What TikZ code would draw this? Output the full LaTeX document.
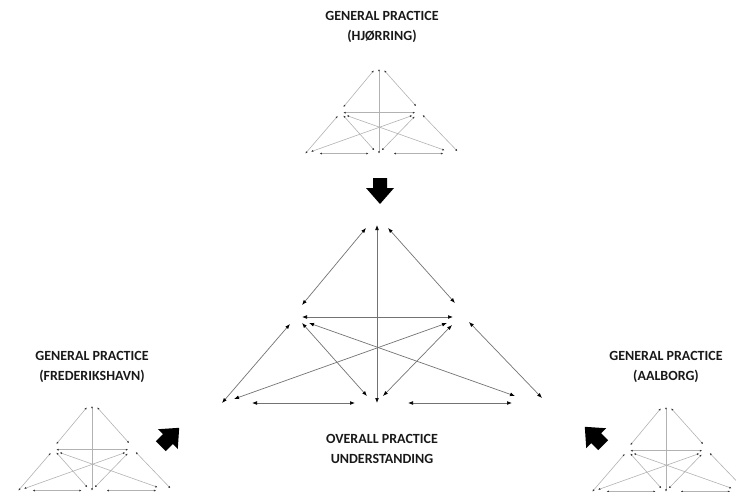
\documentclass[tikz,border=0pt]{standalone}
\usepackage{fontspec}
\setmainfont{Carlito}
\usetikzlibrary{arrows.meta}

\begin{document}
\begin{tikzpicture}[x=1pt, y=-1pt,
  heading/.style={font=\bfseries\fontsize{14}{19.5}\selectfont, align=center, text=black!90},
  link/.style={{Latex[length=5pt,width=3.8pt,color=black]}-{Latex[length=5pt,width=3.8pt,color=black]}, draw=black!55, line width=.7pt},
  small/.style={scale=.475,
    link/.style={{Latex[length=2.2pt,width=2pt,color=black!80]}-{Latex[length=2.2pt,width=2pt,color=black!80]}, draw=black!30, line width=.6pt}},
  push/.pic={\fill[black] (-13,-7) -- (-3,-7) -- (-3,-14) -- (13,0) -- (-3,14) -- (-3,7) -- (-13,7) -- cycle;},
  practice/.pic={
    % end points round the six corners
    \foreach \n/\p in {t-l/{-11,3}, t-c/{0,0}, t-r/{11,3},
        ml-a/{-75,80}, ml-h/{-75,92}, ml-b/{-87,99}, ml-c/{-75,98}, ml-d/{-68,98},
        mr-a/{78,78}, mr-h/{76,92}, mr-b/{70,98}, mr-c/{75,100}, mr-d/{92,97},
        bl-a/{-155,178}, bl-b/{-143,174}, bl-h/{-125,178},
        bc-v/{0,178}, bc-l/{-10,171}, bc-r/{6,171}, bc-hl/{-22,178}, bc-hr/{31,178},
        br-l/{138,171}, br-a/{165,173}, br-h/{135,178}}
      \coordinate (-\n) at (\p);
    \foreach \a/\b in {t-l/ml-a, t-r/mr-a, t-c/bc-v, ml-h/mr-h, bl-a/ml-b, bl-b/mr-b,
        ml-c/bc-l, ml-d/br-l, mr-c/bc-r, mr-d/br-a, bl-h/bc-hl, bc-hr/br-h}
      \draw[link] (-\a) -- (-\b);
  }
]
\useasboundingbox (0,0) rectangle (736,492);

% the three practices
\node[heading] (hjorring) at (382,27) {GENERAL PRACTICE\\(HJØRRING)};
\pic[small] (hj) at (379,69) {practice};

\node[heading] (frederikshavn) at (92,367) {GENERAL PRACTICE\\(FREDERIKSHAVN)};
\pic[small] (fr) at (92,406) {practice};

\node[heading] (aalborg) at (666,367) {GENERAL PRACTICE\\(AALBORG)};
\pic[small] (aa) at (666,407) {practice};

% overall picture in the middle
\pic (overall) at (377,225) {practice};
\node[heading] (understanding) at (382,449) {OVERALL PRACTICE\\UNDERSTANDING};

% block arrows towards the middle
\pic[rotate=-90] (down) at (380,191) {push};
\pic[rotate=45] (upright) at (170,437) {push};
\pic[rotate=135] (upleft) at (594,436) {push};
\end{tikzpicture}
\end{document}
